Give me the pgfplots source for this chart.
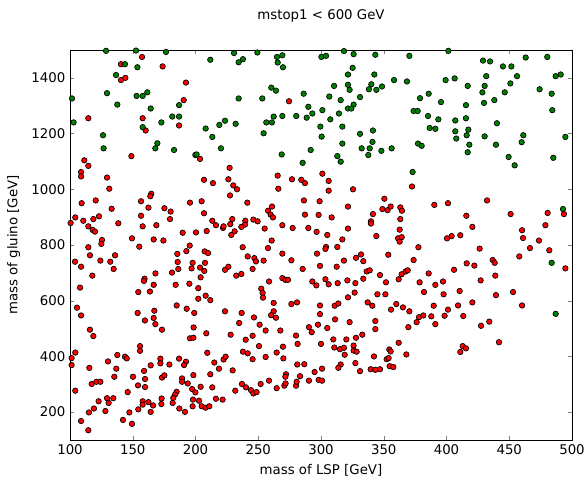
\documentclass[border=0pt]{standalone}
\usepackage{pgfplots}
\pgfplotsset{compat=1.18}
\usepackage{fontspec}
\setmainfont{DejaVu Sans}
\definecolor{mplgreen}{rgb}{0,0.5,0}
\definecolor{mplred}{rgb}{1,0,0}
\begin{document}
\begin{tikzpicture}
\begin{axis}[
  name=ax,
  scale only axis,
  width=376.5pt, height=292.5pt,
  xmin=100, xmax=500, ymin=100, ymax=1500,
  xtick={100,150,...,500}, ytick={200,400,...,1400},
  tick align=inside, major tick length=3pt,
  axis line style={black, line width=0.6pt},
  font=\fontsize{10}{12}\selectfont,
  /pgf/number format/assume math mode=true,
  /pgf/number format/1000 sep={},
  title={mstop1 < 600 GeV},
  title style={at={(axis description cs:0.5,1.068)}, anchor=center},
  xlabel={mass of LSP [GeV]},
  xlabel style={at={(axis description cs:0.5,-0.078)}, anchor=center},
  ylabel={mass of gluino [GeV]},
  ylabel style={at={(axis description cs:-0.112,0.5)}, anchor=center},
]
\addplot[only marks, mark=*, mark size=2.05pt, mark options={fill=mplred, draw=black, line width=0.5pt}] coordinates {
(157.4,1475)(140.6,1449)(173.8,1441)(140.6,1392)(144.1,1400)(192.4,1383)(190.6,1320)(114.6,1255)(157.9,1255)(160.3,1211)(186.9,1229)(148.9,1119)(111.4,1104)(114.6,1084)(108.8,1062)(108.8,1046)(129.5,1042)(131.3,1002)
(274.5,1316)(203.6,1109)(227.2,1077)(206.8,1034)(213.9,1022)(226.2,1036)(230.1,1014)(233.1,1000)(265.5,1049)(276.9,1036)(284.3,1034)(287.2,1022)(266.0,1002)(301.1,1056)
(306.1,1030)(372.5,1010)(325.5,1000)
(109.3,950)(120.5,960)(133.2,930)(104.2,899)(110.6,887)(118.6,893)(123.1,903)(114.6,867)(118.1,854)(119.9,848)(138.5,878)(100.5,879)(125.5,818)(125.0,804)(114.6,792)(115.9,763)(104.0,740)(108.8,722)(124.2,744)(132.1,740)(135.9,763)(134.8,714)(117.8,690)(108.0,647)(105.6,575)(108.8,547)(115.9,496)
(156.6,957)(164.8,984)(164.0,975)(162.5,934)(156.6,905)(157.9,867)(175.2,932)(180.2,920)(179.7,893)(168.8,871)(149.4,824)(166.7,820)(174.4,816)(155.2,794)(189.8,844)(195.6,952)(200.4,845)(195.4,798)(192.7,778)(185.5,768)(185.8,739)(186.3,714)(181.3,701)(197.7,736)(196.9,716)(159.4,679)(158.9,671)(168.1,698)(166.7,657)(184.2,657)(195.1,661)(154.4,631)(163.7,633)(185.0,583)(193.0,571)(199.0,556)(153.9,556)(167.2,564)(166.7,538)(159.7,529)(168.0,516)(173.3,496)(198.5,504)
(227.5,978)(204.9,957)(241.3,952)(286.4,960)(298.9,957)(261.0,938)(257.8,923)(259.9,909)(261.7,899)(206.8,914)(213.4,887)(216.3,871)(221.9,861)(222.4,867)(229.3,893)(227.7,875)(231.2,849)(228.5,836)(239.7,887)(239.4,873)(236.5,865)(246.1,891)(249.5,885)(255.1,859)(269.2,871)(277.4,861)(287.2,909)(298.1,908)(289.9,861)(296.5,847)(208.9,850)(260.7,816)(237.6,792)(257.8,789)(207.3,777)(210.0,771)(241.6,759)(246.9,753)(248.2,741)(254.3,744)(269.2,769)(276.4,745)(296.8,769)(207.6,736)(203.6,719)(207.0,707)(204.1,684)(223.5,711)(226.2,722)(245.5,714)(232.5,690)(236.5,696)(285.4,714)(299.2,725)(258.6,669)(269.2,681)(271.6,675)(273.7,675)(293.1,669)(296.3,655)(202.2,645)(252.4,643)(253.5,628)(253.8,611)(202.2,607)(208.1,618)(211.8,602)(262.3,592)(276.4,588)(280.9,594)(299.2,583)(223.5,562)(236.8,556)(246.6,540)(262.3,562)(260.2,548)(264.1,539)(234.8,520)(251.1,514)(255.9,493)(267.6,493)(290.4,505)(299.2,552)(297.6,514)
(306.1,995)(308.5,899)(321.5,938)(350.5,966)(348.9,929)(353.1,925)(355.5,938)(363.2,935)(364.5,923)(341.4,911)(339.8,885)(339.8,877)(363.2,893)(362.7,855)(390.3,944)(401.2,950)(321.5,859)(344.1,832)(361.4,824)(364.3,828)(362.7,812)(400.4,824)(305.0,836)(317.0,820)(304.0,793)(303.5,786)(313.0,793)(377.6,792)(353.6,765)(373.8,746)(331.9,766)(327.9,754)(333.7,742)(318.3,744)(312.5,722)(336.4,705)(338.8,709)(347.0,692)(361.9,677)(364.3,695)(367.5,705)(369.1,709)(385.8,698)(303.5,677)(306.1,659)(321.0,673)(313.3,663)(327.4,663)(333.7,679)(351.8,666)(378.6,666)(391.1,657)(397.2,669)(344.9,623)(351.3,623)(382.1,631)(397.7,623)(326.8,629)(321.5,612)(337.2,594)(340.9,582)(360.0,588)(365.3,576)(355.8,568)(370.4,562)(389.8,582)(401.2,568)(310.9,582)(313.8,590)(311.2,533)(322.8,523)(343.3,527)(343.3,498)(305.0,502)(378.1,541)(376.2,523)(381.5,547)(387.9,544)(398.5,546)(391.1,516)(369.6,505)
(432.3,960)(415.8,905)(451.1,911)(480.6,915)(493.6,911)(420.6,865)(404.1,832)(411.0,835)(460.2,853)(461.0,825)(478.8,871)(473.7,816)(426.4,787)(466.5,789)(481.9,781)(458.0,759)(436.8,746)(438.4,736)(494.7,716)(406.0,711)(416.1,734)(422.2,726)(438.9,690)(427.2,673)(410.5,635)(439.4,620)(453.0,631)(409.2,583)(420.6,594)(460.2,583)(413.4,545)(427.5,510)(434.1,525)
(118.6,473)(195.6,465)(198.3,467)(104.2,414)(101.3,394)(101.3,369)(115.4,359)(104.2,277)(130.3,382)(137.7,405)(136.9,356)(135.3,327)(143.8,399)(145.2,393)(155.8,437)(155.8,420)(164.3,368)(159.0,348)(150.2,327)(159.8,319)(154.2,296)(159.8,290)(146.0,272)(117.3,301)(121.0,309)(124.2,309)(122.8,239)(119.1,213)(115.1,199)(108.8,168)(114.6,135)(128.2,204)(130.8,233)(129.5,250)(134.5,250)(142.2,172)(147.3,199)(149.4,158)(154.4,210)(157.9,239)(157.9,227)(162.5,236)(166.2,224)(164.3,201)(172.0,392)(172.0,375)(179.2,371)(173.3,324)(175.2,332)(173.0,249)(172.8,229)(186.9,392)(192.4,381)(190.9,369)(189.3,321)(189.3,309)(193.8,303)(197.3,283)(199.9,271)(185.0,273)(183.7,263)(182.3,251)(181.8,233)(187.1,213)(191.6,201)(198.3,333)(198.0,245)(197.7,221)
(208.6,483)(228.0,478)(240.0,460)(245.5,474)(280.1,475)(281.4,445)(292.6,487)(300.0,445)(209.4,413)(250.6,437)(237.8,417)(241.6,411)(245.5,390)(255.9,398)(264.7,414)(269.7,435)(270.0,393)(222.4,389)(224.0,399)(215.0,378)(218.7,356)(229.6,350)(211.8,336)(281.1,371)(286.7,372)(294.9,344)(300.8,356)(272.1,336)(271.6,327)(283.3,329)(290.4,313)(298.1,316)(300.8,313)(204.1,291)(213.4,289)(231.7,277)(237.0,301)(240.2,289)(244.2,279)(246.1,267)(248.7,272)(251.9,301)(258.6,313)(264.7,286)(270.8,295)(271.8,303)(280.1,295)(280.6,309)(202.8,241)(204.9,221)(208.1,216)(211.0,221)(216.3,248)(221.6,245)
(309.8,461)(320.2,461)(327.9,467)(332.9,478)(310.6,432)(315.1,426)(318.3,431)(326.0,439)(326.0,421)(328.4,417)(318.9,406)(361.9,449)(354.4,425)(355.5,418)(368.0,407)(342.2,400)(352.3,390)(353.9,394)(327.4,376)(315.7,371)(313.8,359)(331.1,347)(339.6,354)(343.3,352)(347.0,354)(354.7,365)(357.6,362)
(441.8,451)(412.9,437)(415.5,429)(411.0,416)
};
\addplot[only marks, mark=*, mark size=2.05pt, mark options={fill=mplgreen, draw=black, line width=0.5pt}] coordinates {
(128.7,1497)(152.6,1498)(176.5,1493)(143.8,1449)(153.7,1438)(136.7,1410)(101.6,1326)(129.5,1345)(153.1,1335)(157.9,1335)(161.6,1348)(137.7,1304)(164.3,1290)(186.9,1302)(102.9,1240)(157.9,1223)(172.8,1240)(181.5,1261)(186.9,1261)(126.3,1194)(126.8,1147)(169.6,1165)(168.0,1147)(182.9,1141)(199.9,1123)
(230.7,1489)(249.3,1491)(211.8,1465)(234.4,1456)(237.8,1467)(264.9,1475)(269.2,1481)(265.5,1455)(269.7,1438)(300.3,1475)(260.4,1365)(264.1,1354)(234.4,1326)(253.2,1326)(286.2,1343)(289.9,1296)(293.1,1272)(301.1,1284)(288.6,1257)(280.3,1263)(269.2,1263)(262.3,1261)(256.4,1240)(260.9,1240)(254.3,1201)(232.0,1235)(223.5,1246)(219.0,1231)(208.1,1218)(213.4,1188)(220.3,1147)(299.5,1225)(300.5,1189)(200.9,1125)(268.7,1125)(291.8,1141)(285.4,1095)
(304.0,1479)(318.3,1496)(326.0,1485)(343.3,1483)(370.4,1479)(401.5,1497)(325.2,1436)(321.5,1412)(342.5,1412)(358.2,1392)(368.5,1387)(399.3,1392)(310.4,1371)(321.5,1375)(322.8,1357)(340.1,1377)(338.2,1359)(344.1,1357)(348.6,1369)(306.6,1333)(331.1,1331)(315.7,1320)(326.0,1304)(321.5,1290)(324.2,1290)(378.9,1327)(385.8,1343)(395.6,1313)(314.3,1272)(307.4,1251)(373.8,1281)(377.0,1281)(385.3,1263)(393.5,1251)(317.0,1225)(331.1,1199)(341.4,1211)(386.6,1220)(391.1,1217)(317.0,1164)(341.0,1170)(377.3,1164)(380.2,1156)(332.4,1147)(338.8,1147)(348.1,1138)(356.3,1147)(337.7,1123)(313.0,1119)(315.7,1099)(373.0,1062)
(429.1,1462)(434.7,1459)(463.1,1473)(480.3,1475)(445.0,1441)(451.7,1441)(406.5,1398)(431.7,1406)(456.2,1406)(487.0,1406)(491.0,1412)(416.9,1371)(430.4,1371)(450.9,1380)(428.6,1348)(446.4,1348)(474.2,1359)(483.8,1343)(415.5,1302)(429.9,1310)(438.1,1320)(484.3,1284)(407.0,1247)(415.5,1255)(440.2,1237)(407.0,1208)(417.4,1214)(407.8,1182)(416.1,1194)(430.4,1190)(461.2,1194)(494.7,1188)(418.2,1160)(439.4,1160)(459.9,1169)(416.9,1133)(449.5,1116)(454.3,1086)(485.1,1113)
(492.8,929)(483.8,736)(487.0,553)
};
\end{axis}
\pgfresetboundingbox
\path[use as bounding box] ([xshift=-52.5pt,yshift=-27.75pt]ax.south west) rectangle ([xshift=9pt,yshift=37.5pt]ax.north east);
\end{tikzpicture}
\end{document}
